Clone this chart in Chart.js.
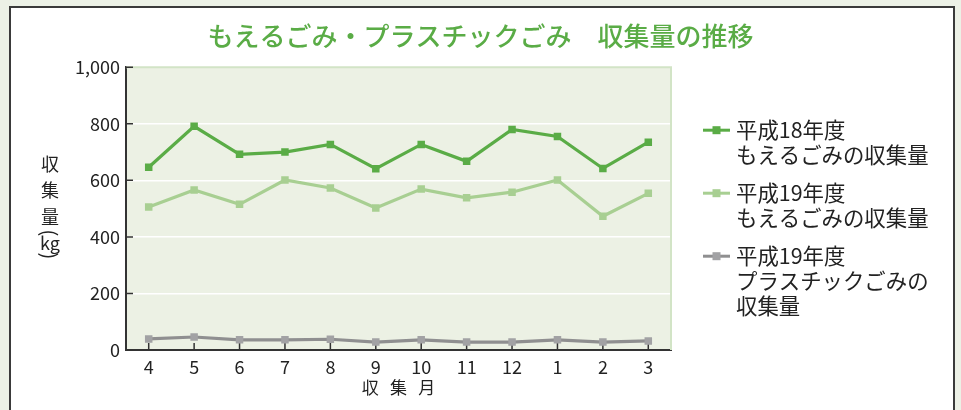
<!DOCTYPE html>
<html><head><meta charset="utf-8">
<script src="https://cdn.jsdelivr.net/npm/chart.js@4/dist/chart.umd.min.js"></script>
<style>
html,body{margin:0;padding:0;background:#ecf1e6;width:961px;height:410px;overflow:hidden}
#panel{position:absolute;left:9px;top:6px;width:946px;height:420px;background:#fff;border:2px solid #3a3a3a;box-sizing:border-box}
#wrap{position:absolute;left:0;top:0;width:961px;height:410px}
</style></head><body>
<div id="panel"></div>
<div id="wrap"><canvas id="c" width="961" height="410"></canvas></div>
<script>
const months = ['4','5','6','7','8','9','10','11','12','1','2','3'];
const moeru18 = [646,791,692,700,727,641,727,667,780,755,642,735];
const moeru19 = [506,566,515,601,573,502,569,538,558,601,473,554];
const plastic19 = [39,46,36,36,38,28,36,28,28,36,28,32];
const yTickValues = [0,200,400,600,800,1000];
const seriesLabels = [
  ['平成18年度','もえるごみの収集量'],
  ['平成19年度','もえるごみの収集量'],
  ['平成19年度','プラスチックごみの','収集量']
];
const titleText = 'もえるごみ・プラスチックごみ　収集量の推移';
const yAxisTitle = ['収','集','量'];
const yAxisUnit = 'kg';
const xAxisTitle = '収\u2002\u2006集\u2002\u2006月';

const FONT = '"Noto Sans CJK JP","Noto Sans",sans-serif';
const C1 = '#5aac46', C2 = '#a8cf92', C3line = '#8f8f90', C3pt = '#a2a2a4';

const plotDeco = {
  id: 'plotDeco',
  beforeDraw(chart) {
    const {ctx, chartArea: a} = chart;
    ctx.save();
    ctx.fillStyle = '#ecf1e4';
    ctx.fillRect(a.left, a.top, a.right - a.left, a.bottom - a.top);
    ctx.restore();
  },
  beforeDatasetsDraw(chart) {
    const {ctx, chartArea: a, scales} = chart;
    ctx.save();
    ctx.strokeStyle = '#d2e4c6';
    ctx.lineWidth = 2;
    ctx.beginPath();
    ctx.moveTo(a.left, a.top); ctx.lineTo(a.right, a.top); ctx.lineTo(a.right, a.bottom);
    ctx.stroke();
    ctx.strokeStyle = '#333';
    ctx.lineWidth = 1.5;
    ctx.beginPath();
    scales.y.ticks.forEach((t, i) => {
      const y = scales.y.getPixelForTick(i);
      ctx.moveTo(a.left, y); ctx.lineTo(a.left + 7, y);
    });
    scales.x.ticks.forEach((t, i) => {
      const x = scales.x.getPixelForTick(i);
      ctx.moveTo(x, a.bottom); ctx.lineTo(x, a.bottom - 7);
    });
    ctx.stroke();
    ctx.restore();
  },
  afterDraw(chart) {
    const {ctx, chartArea: a} = chart;
    ctx.save();
    // vertical y-axis title
    ctx.fillStyle = '#222';
    ctx.textAlign = 'center';
    ctx.textBaseline = 'middle';
    ctx.font = '18px ' + FONT;
    const cx = 50;
    yAxisTitle.forEach((ch, i) => ctx.fillText(ch, cx, 164 + i * 26.5));
    ctx.fillText(yAxisUnit, cx, 243);
    // rotated brackets
    [['(', 233], [')', 256]].forEach(([b, by]) => {
      ctx.save();
      ctx.translate(cx, by);
      ctx.rotate(Math.PI / 2);
      ctx.font = '20px ' + FONT;
      ctx.fillText(b, 0, 0);
      ctx.restore();
    });
    // legend
    const iconL = a.right + 32, iconR = a.right + 59, textX = a.right + 65;
    let y = a.top + 63;
    ctx.textAlign = 'left';
    ctx.font = '21.4px ' + FONT;
    chart.data.datasets.forEach((ds) => {
      ctx.strokeStyle = ds.borderColor;
      ctx.lineWidth = 3;
      ctx.beginPath(); ctx.moveTo(iconL, y); ctx.lineTo(iconR, y); ctx.stroke();
      ctx.fillStyle = ds.pointBackgroundColor;
      ctx.fillRect((iconL + iconR) / 2 - 4, y - 4, 8, 8);
      ctx.fillStyle = '#222';
      ds.label.forEach((line, j) => ctx.fillText(line, textX, y + j * 25));
      y += ds.label.length * 25 + 13;
    });
    ctx.restore();
  }
};

new Chart(document.getElementById('c'), {
  type: 'line',
  data: {
    labels: months,
    datasets: [
      {label: seriesLabels[0], data: moeru18, borderColor: C1, backgroundColor: C1, pointBackgroundColor: C1, pointBorderColor: C1},
      {label: seriesLabels[1], data: moeru19, borderColor: C2, backgroundColor: C2, pointBackgroundColor: C2, pointBorderColor: C2},
      {label: seriesLabels[2], data: plastic19, borderColor: C3line, backgroundColor: C3pt, pointBackgroundColor: C3pt, pointBorderColor: C3pt}
    ].map(d => Object.assign(d, {borderWidth: 3.2, pointStyle: 'rect', pointRadius: 5.3, pointBorderWidth: 0, tension: 0}))
  },
  options: {
    responsive: false,
    animation: false,
    devicePixelRatio: 1,
    layout: {padding: 0},
    plugins: {
      legend: {display: false},
      tooltip: {enabled: false},
      title: {
        display: true, text: titleText, color: '#5aac46',
        font: {family: FONT, size: 26, weight: '500', lineHeight: 1.2},
        padding: {top: 21, bottom: 15}
      }
    },
    scales: {
      x: {
        offset: true,
        grid: {display: true, color: 'rgba(0,0,0,0)', drawTicks: false},
        border: {display: true, color: '#333', width: 2},
        ticks: {color: '#222', font: {family: FONT, size: 18}, padding: 6, maxRotation: 0, autoSkip: false},
        title: {display: true, text: xAxisTitle, color: '#222', font: {family: FONT, size: 17, lineHeight: 1.2}, padding: {top: 0, bottom: 12}},
        afterFit(s) { s.height = 60; }
      },
      y: {
        min: 0, max: 1000,
        afterBuildTicks(s) { s.ticks = yTickValues.map(v => ({value: v})); },
        grid: {
          drawTicks: false, lineWidth: 1.5,
          color: c => (c.tick && (c.tick.value === 0 || c.tick.value === 1000)) ? 'rgba(0,0,0,0)' : '#ffffff'
        },
        border: {display: true, color: '#333', width: 2},
        ticks: {color: '#222', font: {family: FONT, size: 18}, padding: 6,
          callback: v => v.toLocaleString('en-US')},
        afterFit(s) { s.width = 126; }
      },
      legendSpace: {
        type: 'linear', position: 'right', display: true,
        grid: {display: false, drawTicks: false},
        border: {display: false},
        ticks: {display: false},
        afterFit(s) { s.width = 290; }
      }
    }
  },
  plugins: [plotDeco]
});
</script>
</body></html>
